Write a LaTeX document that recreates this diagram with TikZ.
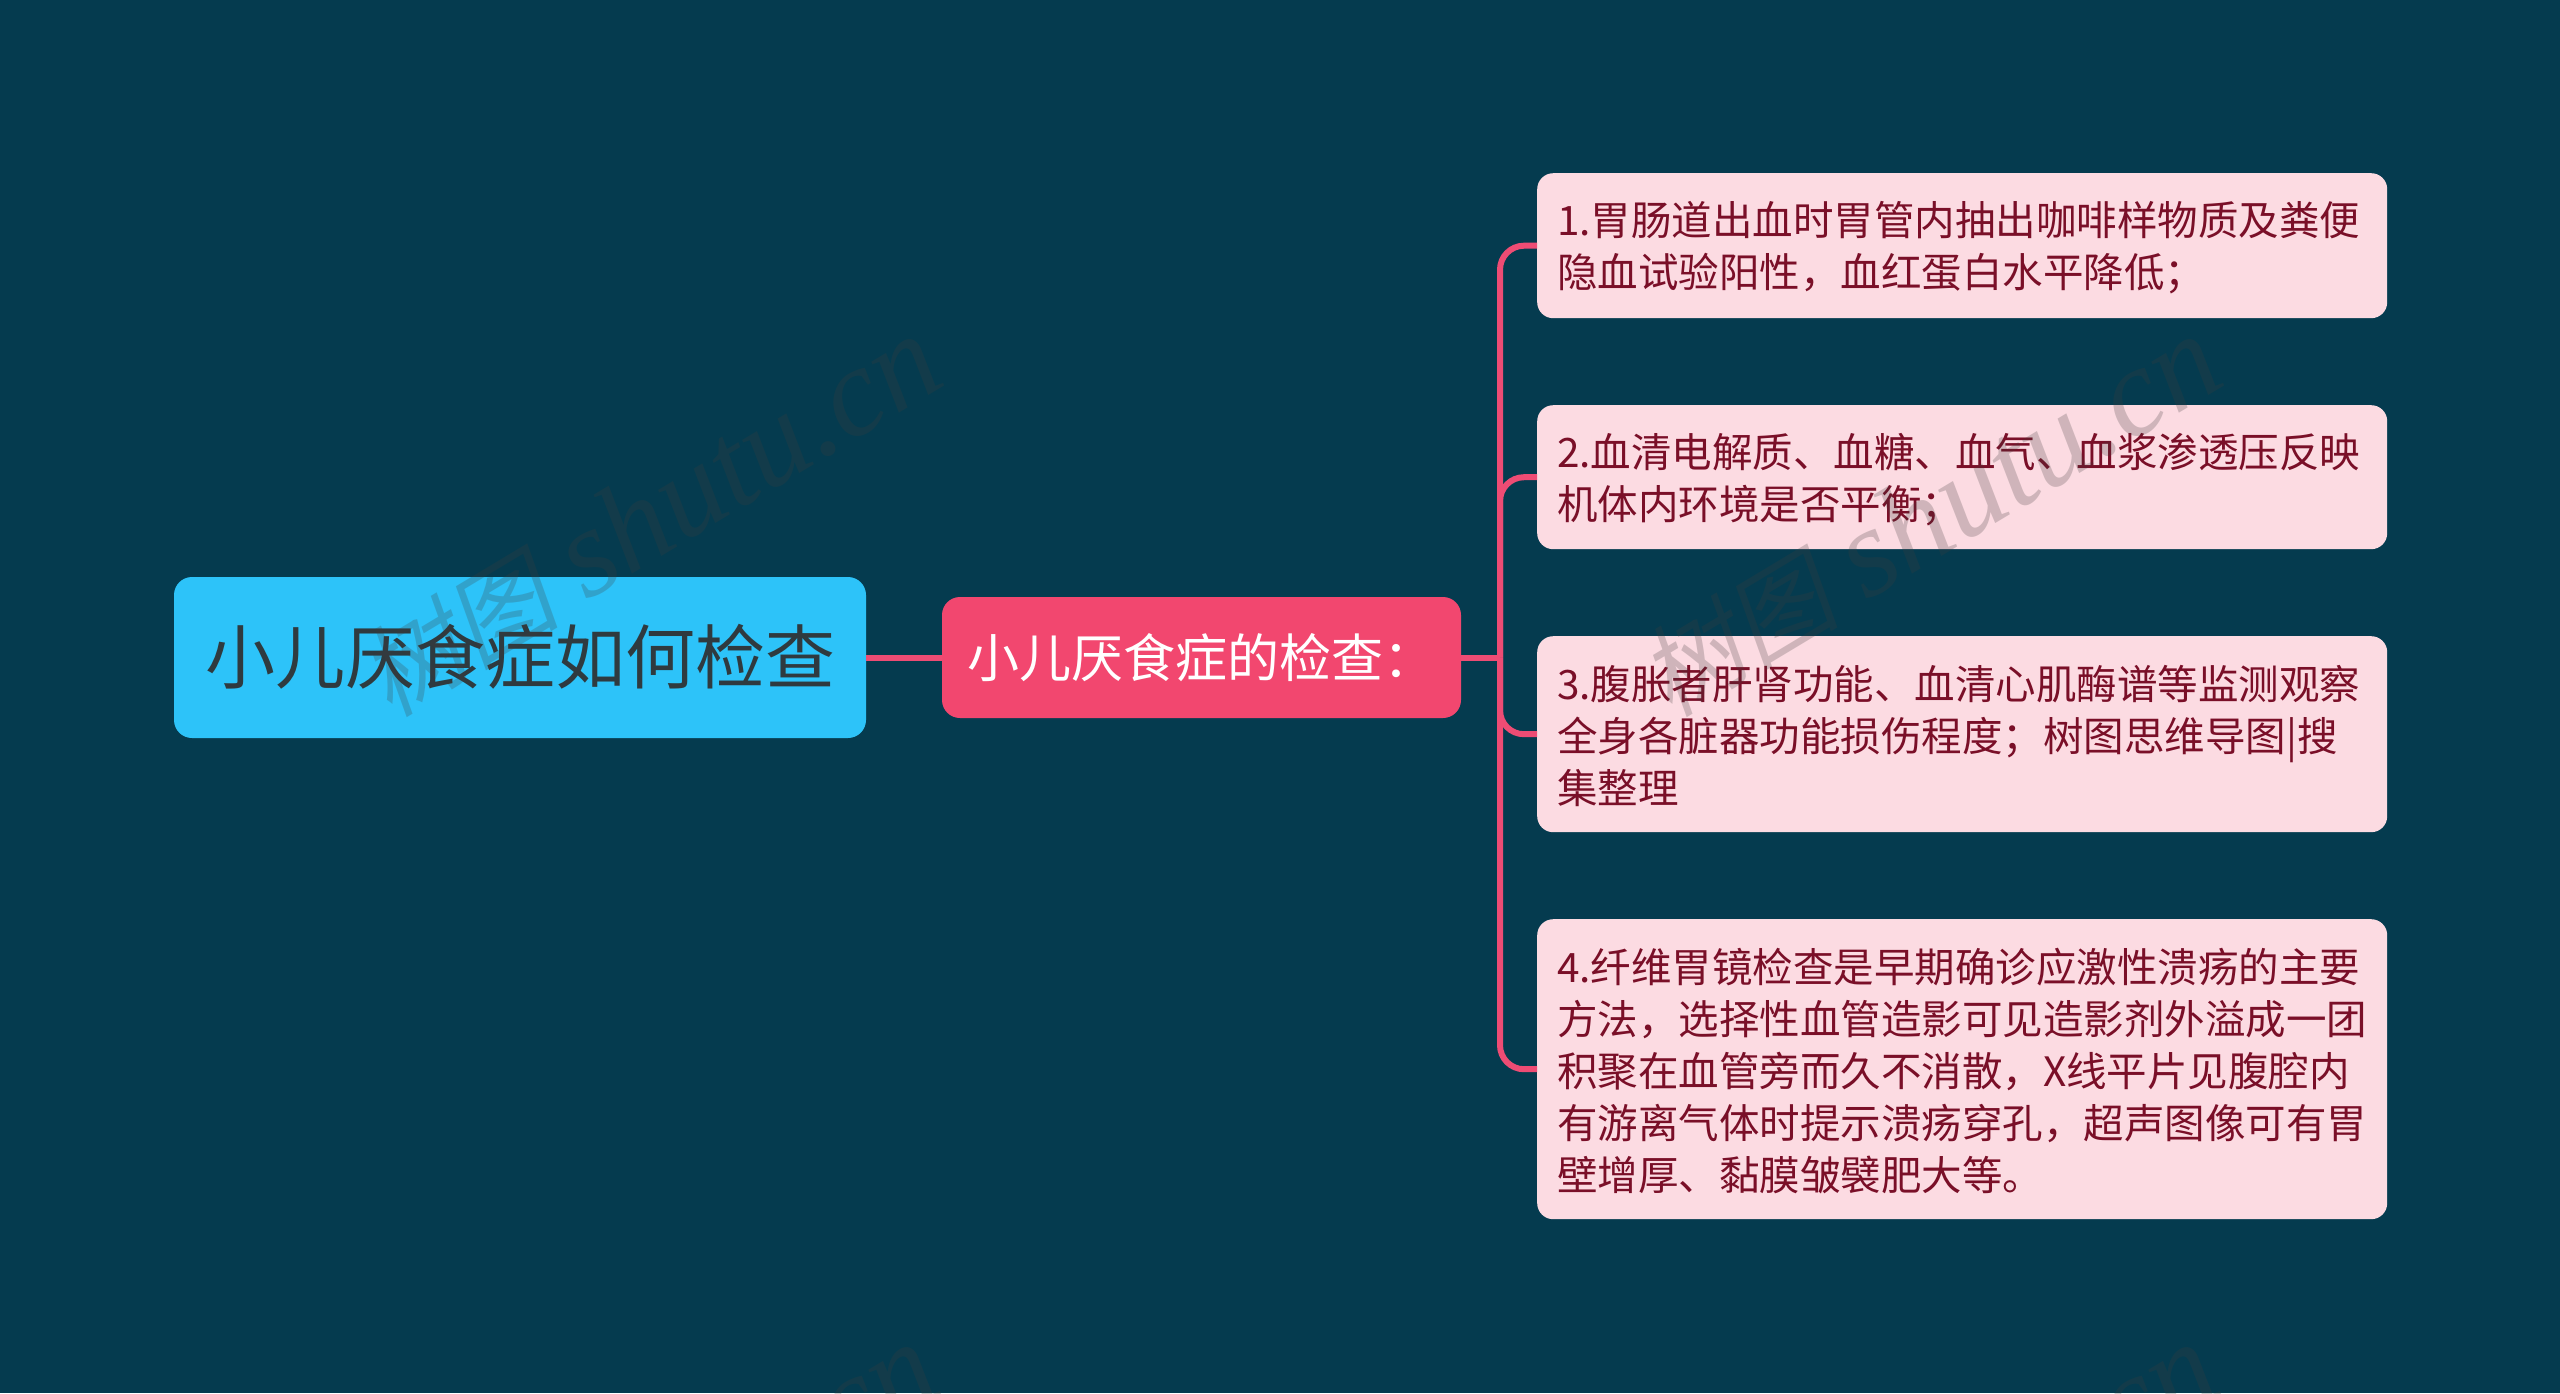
\documentclass[tikz,border=0pt]{standalone}
\usepackage{fontspec}
\setmainfont{Noto Sans CJK SC}
\newfontfamily\wmcjk[FakeSlant=0.2]{Noto Sans CJK SC}
\newfontfamily\wmlat{Liberation Serif}[ItalicFont={Liberation Serif Italic}]
\definecolor{bgc}{HTML}{053B4F}
\definecolor{rootc}{HTML}{2DC3F9}
\definecolor{roott}{HTML}{2F3A3F}
\definecolor{subc}{HTML}{F2476F}
\definecolor{leafc}{HTML}{FCDBE2}
\definecolor{leaft}{HTML}{7A0F28}
\definecolor{linec}{HTML}{EE4C74}
\definecolor{wmc}{HTML}{403C3C}
\tikzset{
  rootbox/.style={draw=none,fill=rootc,text=roott,rounded corners=18pt,minimum width=692pt,minimum height=161pt,inner sep=0pt,font=\fontsize{70}{84}\selectfont},
  subbox/.style={draw=none,fill=subc,text=white,rounded corners=18pt,minimum width=519pt,minimum height=121pt,inner sep=0pt,font=\fontsize{52}{62}\selectfont},
  leafbox/.style={draw=none,fill=leafc,text=leaft,rounded corners=16pt,anchor=north west,minimum width=850pt,inner ysep=0pt,inner xsep=20pt,text width=810pt,align=left,font=\fontsize{40.5}{52}\selectfont},
  conn/.style={draw=linec,line width=6pt},
  branch/.style={conn,rounded corners=24pt},
  wmark/.style={text=wmc,opacity=0.24,rotate=31,anchor=west,inner sep=0pt}
}
\newcommand{\wmtext}{{\wmcjk\fontsize{100}{120}\selectfont 树图}\hspace{28pt}{\wmlat\itshape\fontsize{126}{130}\selectfont shutu.cn}}
\newcommand{\shifted}[2]{\raisebox{#1}[\dimexpr\height-(#1)\relax][\dimexpr\depth+(#1)\relax]{#2}}
\newcommand{\lline}[1]{\shifted{-1pt}{#1}}
\begin{document}
\begin{tikzpicture}[x=1pt,y=-1pt]
\path[use as bounding box,fill=bgc] (0,0) rectangle (2560,1393);
\node[rootbox] (root) at (520,657.5) {\shifted{0.5pt}{小儿厌食症如何检查}};
\node[subbox] (sub) at (1201.5,657.5) {\shifted{0pt}{小儿厌食症的检查：}};
\node[leafbox,minimum height=145pt] (l1) at (1537,173) {\lline{1.胃肠道出血时胃管内抽出咖啡样物质及粪便}\\\lline{隐血试验阳性，血红蛋白水平降低；}};
\node[leafbox,minimum height=144pt] (l2) at (1537,405) {\lline{2.血清电解质、血糖、血气、血浆渗透压反映}\\\lline{机体内环境是否平衡；}};
\node[leafbox,minimum height=196pt] (l3) at (1537,636) {\lline{3.腹胀者肝肾功能、血清心肌酶谱等监测观察}\\\lline{全身各脏器功能损伤程度；树图思维导图|搜}\\\lline{集整理}};
\node[leafbox,minimum height=300pt] (l4) at (1537,919) {\lline{4.纤维胃镜检查是早期确诊应激性溃疡的主要}\\\lline{方法，选择性血管造影可见造影剂外溢成一团}\\\lline{积聚在血管旁而久不消散，X线平片见腹腔内}\\\lline{有游离气体时提示溃疡穿孔，超声图像可有胃}\\\lline{壁增厚、黏膜皱襞肥大等。}};
\coordinate (trunk) at (1500,657.5);
\draw[conn] (root.east) -- (sub.west);
\draw[conn] (sub.east) -- (trunk);
\draw[branch] (trunk) |- (l1.west);
\draw[branch] (trunk) |- (l2.west);
\draw[branch] (trunk) |- (l3.west);
\draw[branch] (trunk) |- (l4.west);
\node[wmark] (wm1) at (370,685) {\wmtext};
\node[wmark] (wm2) at (1650,685) {\wmtext};
\node[wmark] (wm3) at (367,1693) {\wmtext};
\node[wmark] (wm4) at (1647,1693) {\wmtext};
\end{tikzpicture}
\end{document}
